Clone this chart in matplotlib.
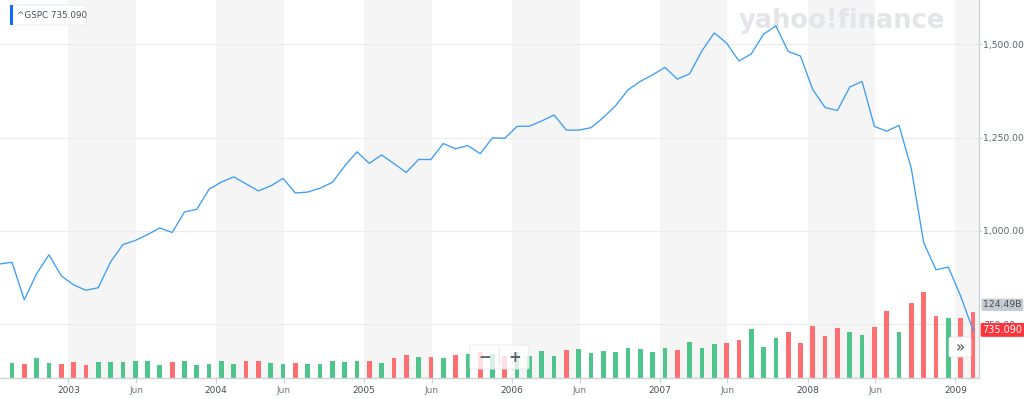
import matplotlib
matplotlib.use('Agg')
import matplotlib.pyplot as plt
import matplotlib.transforms as mtransforms
from matplotlib.patches import FancyBboxPatch, Rectangle
import numpy as np

plt.rcParams['font.family'] = ['DejaVu Sans']

# ---------------- data ----------------
# monthly closes of ^GSPC, Jul 2002 .. Feb 2009
close = [911.62, 916.07, 815.28, 885.76, 936.31, 879.82,
         855.70, 841.15, 848.18, 916.92, 963.59, 974.50, 990.31, 1008.01, 995.97, 1050.71, 1058.20, 1111.92,
         1131.13, 1144.94, 1126.21, 1107.30, 1120.68, 1140.84, 1101.72, 1104.24, 1114.58, 1130.20, 1173.82, 1211.92,
         1181.27, 1203.60, 1180.59, 1156.85, 1191.50, 1191.33, 1234.18, 1220.33, 1228.81, 1207.01, 1249.48, 1248.29,
         1280.08, 1280.66, 1294.83, 1310.61, 1270.09, 1270.20, 1276.66, 1303.82, 1335.85, 1377.94, 1400.63, 1418.30,
         1438.24, 1406.82, 1420.86, 1482.37, 1530.62, 1503.35, 1455.27, 1473.99, 1526.75, 1549.38, 1481.14, 1468.36,
         1378.55, 1330.63, 1322.70, 1385.59, 1400.38, 1280.00, 1267.38, 1282.83, 1166.36, 968.75, 896.24, 903.25,
         825.88, 735.09]

# monthly volume (billions), Aug 2002 .. Feb 2009
volume_b = [29.2, 27.3, 37.4, 29.2, 26.2,
            30.5, 24.3, 30.5, 30.5, 30.5, 31.8, 31.8, 24.3, 30.5, 31.8, 24.3, 27.3,
            33.1, 27.3, 33.1, 32.3, 28.6, 27.3, 28.6, 26.2, 26.2, 32.3, 30.5, 32.3,
            32.3, 28.6, 38.7, 44.3, 39.8, 39.8, 37.4, 43.0, 45.4, 49.2, 45.4, 41.1,
            48.6, 42.2, 51.0, 42.2, 53.5, 54.8, 47.3, 51.0, 49.2, 56.6, 54.8, 48.6,
            56.1, 52.3, 67.9, 56.6, 64.7, 65.4, 71.0, 91.6, 57.9, 75.9, 87.1, 65.4,
            97.8, 79.1, 94.0, 86.0, 81.5, 96.4, 126.4, 87.1, 141.3, 160.7, 116.4, 113.3,
            112.1, 124.49]

x_tick_labels = ['2003', 'Jun', '2004', 'Jun', '2005', 'Jun', '2006', 'Jun',
                 '2007', 'Jun', '2008', 'Jun', '2009']
price_ticks = [750, 1000, 1250, 1500]
price_tick_labels = ['750.00', '1,000.00', '1,250.00', '1,500.00']
symbol = '^GSPC'
last_price_label = '735.090'
last_volume_label = '124.49B'

# ---------------- layout ----------------
W, H = 1024, 399
fig = plt.figure(figsize=(W / 100, H / 100), dpi=100)
fig.patch.set_facecolor('white')

def fx(px):
    return px / W

def fy(py):
    return 1 - py / H

ax_v = fig.add_axes([0, fy(378.3), fx(979), 1 - fy(378.3)])
ax_p = ax_v.twinx()

pos_close = np.arange(len(close)) - 1
pos_vol = np.arange(len(volume_b))

# tick positions (month-index units)
year_pos = [4.57 + 12 * k for k in range(7)]
tick_pos = []
for k, yp in enumerate(year_pos):
    tick_pos.append(yp)
    if k < 6:
        tick_pos.append(yp + 5.5)

ax_v.set_xlim(-0.974, 78.49)
ax_v.set_ylim(0, 707)
ax_p.set_ylim(605.5, 1618.6)

# shaded half-year bands
for yp in year_pos:
    ax_v.axvspan(yp, yp + 5.5, color='#f5f5f5', lw=0, zorder=0)

# horizontal gridlines at price ticks (drawn below bars)
blend = mtransforms.blended_transform_factory(ax_v.transAxes, ax_p.transData)
for p in price_ticks:
    ax_v.plot([0, 1], [p, p], transform=blend, color='#ececec', lw=0.9, zorder=0.5)

# volume bars
colors = ['#4dc58b' if close[k + 1] >= close[k] else '#ff6f72' for k in range(len(volume_b))]
ax_v.bar(pos_vol, volume_b, width=0.38, color=colors, zorder=2)

# price line
ax_p.plot(pos_close, close, color='#3d9ef5', lw=0.95, zorder=3, solid_joinstyle='miter')

# axes styling
for s in ['top', 'left', 'right']:
    ax_v.spines[s].set_visible(False)
ax_v.spines['bottom'].set_color('#cfd2d6')
ax_v.spines['bottom'].set_linewidth(1.0)
for s in ['top', 'left', 'bottom']:
    ax_p.spines[s].set_visible(False)
ax_p.spines['right'].set_color('#cfd2d6')
ax_p.spines['right'].set_linewidth(1.0)

ax_v.set_yticks([])
ax_v.set_xticks(tick_pos)
ax_v.set_xticklabels(x_tick_labels)
ax_v.tick_params(axis='x', length=3.5, width=0.8, color='#cfd2d6', pad=2.2, labelsize=6.5)
for lbl in ax_v.get_xticklabels():
    lbl.set_color('#464e56' if lbl.get_text() != 'Jun' else '#6f767d')

ax_p.set_yticks(price_ticks)
ax_p.set_yticklabels(price_tick_labels)
ax_p.tick_params(axis='y', length=2.3, width=0.8, color='#cfd2d6', pad=0.9,
                 labelsize=6.7, labelcolor='#5b636a')

# watermark logo (below line)
ax_v.text(fx(739), fy(28), 'yahoo!finance', transform=fig.transFigure, fontsize=18.5,
          fontweight='heavy', color='#e3e5e9', ha='left', va='baseline', zorder=0.6)

# last volume label (gray) and last price label (red)
ax_p.annotate(last_volume_label, xy=(1, volume_b[-1]), xycoords=('axes fraction', ax_v.transData),
              xytext=(3.0, 5.0), textcoords='offset points', ha='left', va='center',
              fontsize=6.7, color='#464e56', annotation_clip=False, zorder=10,
              bbox=dict(boxstyle='round,pad=0.18,rounding_size=0.15', fc='#c6cad1', ec='none'))
ax_p.annotate(last_price_label, xy=(1, close[-1]), xycoords=('axes fraction', 'data'),
              xytext=(2.6, 0), textcoords='offset points', ha='left', va='center',
              fontsize=7.0, color='white', annotation_clip=False, zorder=11,
              bbox=dict(boxstyle='round,pad=0.2,rounding_size=0.15', fc='#ff333a', ec='none'))

# top-left legend box
fig.patches.append(FancyBboxPatch((fx(10), fy(25)), fx(76), fy(5) - fy(25),
                                  boxstyle='round,pad=0,rounding_size=0.002',
                                  transform=fig.transFigure, fc='white', ec='#e6e8eb', lw=0.6, zorder=5))
fig.patches.append(Rectangle((fx(10), fy(25)), fx(3), fy(5) - fy(25),
                             transform=fig.transFigure, fc='#0f69ff', ec='none', zorder=6))
fig.text(fx(17), fy(15.5), f'{symbol} {close[-1]:.3f}', fontsize=6.3, color='#464e56',
         ha='left', va='center', zorder=7)

# zoom control (- +)
fig.patches.append(FancyBboxPatch((fx(470), fy(369)), fx(59), fy(345) - fy(369),
                                  boxstyle='round,pad=0,rounding_size=0.003',
                                  transform=fig.transFigure, fc=(1, 1, 1, 0.78), ec='#e6e8eb',
                                  lw=0.6, zorder=5))
fig.patches.append(Rectangle((fx(499), fy(366)), fx(0.8), fy(348) - fy(366),
                             transform=fig.transFigure, fc='#e3e5e8', ec='none', zorder=6))
fig.text(fx(484.5), fy(357), '\u2212', fontsize=11, fontweight='bold', color='#5b636a',
         ha='center', va='center', zorder=7)
fig.text(fx(514.5), fy(357), '+', fontsize=11, fontweight='bold', color='#5b636a',
         ha='center', va='center', zorder=7)

# scroll button (>>)
fig.patches.append(FancyBboxPatch((fx(949), fy(357)), fx(22), fy(337) - fy(357),
                                  boxstyle='round,pad=0,rounding_size=0.003',
                                  transform=fig.transFigure, fc='white', ec='#e2e4e7',
                                  lw=0.6, zorder=5))
fig.text(fx(960), fy(347.5), '\u00bb', fontsize=11, color='#464e56',
         ha='center', va='center', zorder=7)

fig.savefig('out.png', dpi=100, facecolor='white')
